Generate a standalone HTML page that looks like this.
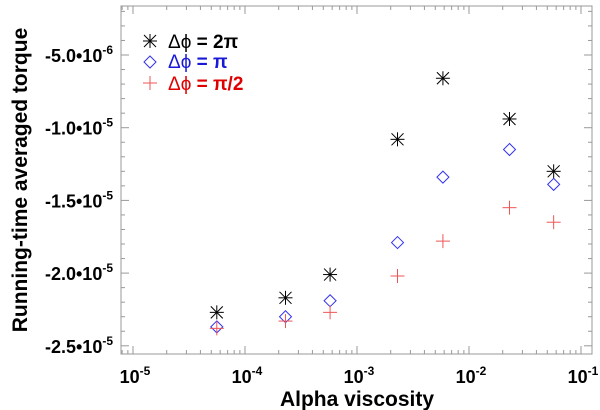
<!DOCTYPE html>
<html><head><meta charset="utf-8"><style>
body{margin:0;background:#fff}
svg{display:block;font-family:"Liberation Sans",Arial,sans-serif;font-weight:bold}
</style></head><body>
<svg id="chart" width="600" height="410" viewBox="0 0 600 410">
<rect x="121" y="6" width="471" height="348" fill="none" stroke="#999" stroke-width="1"/>
<g id="axes"></g>
<g id="marks"></g>
<text x="357" y="406" text-anchor="middle" font-size="21">Alpha viscosity</text>
<text transform="translate(27,180) rotate(-90)" text-anchor="middle" font-size="21">Running-time averaged torque</text>
<g>
<g>
<g stroke="#000" stroke-width="1"><line x1="144" y1="35" x2="156" y2="47"/><line x1="156" y1="35" x2="144" y2="47"/><line x1="150" y1="34" x2="150" y2="48"/><line x1="143" y1="41" x2="157" y2="41"/></g>
<text x="168" y="48" font-size="19" fill="#000" font-weight="normal">Δϕ <tspan font-weight="bold">= 2π</tspan></text></g>
<g>
<path d="M150 56 L156 62 L150 68 L144 62 Z" fill="none" stroke="#3333ee"/>
<text x="168" y="68" font-size="19" fill="#1a1ad6" font-weight="normal">Δϕ <tspan font-weight="bold">= π</tspan></text></g>
<g>
<g stroke="#ee5555"><line x1="143" y1="83" x2="157" y2="83"/><line x1="150" y1="76" x2="150" y2="90"/></g>
<text x="168" y="90" font-size="19" fill="#e00000" font-weight="normal">Δϕ <tspan font-weight="bold">= π/2</tspan></text></g>
</g>
</svg>
<script>
const alphas=[5.6e-5,2.3e-4,5.75e-4,2.3e-3,5.85e-3,2.3e-2,5.7e-2];
const torque2pi=[-2.27e-5,-2.17e-5,-2.01e-5,-1.08e-5,-6.6e-6,-9.4e-6,-1.30e-5];
const torquePi=[-2.37e-5,-2.30e-5,-2.19e-5,-1.79e-5,-1.34e-5,-1.15e-5,-1.39e-5];
const torquePiHalf=[-2.38e-5,-2.33e-5,-2.27e-5,-2.02e-5,-1.78e-5,-1.55e-5,-1.65e-5];
const yTicks=[-5e-6,-1e-5,-1.5e-5,-2e-5,-2.5e-5];
const yTickLabels=["-5.0","-1.0","-1.5","-2.0","-2.5"];
const yTickExps=["-6","-5","-5","-5","-5"];
const xDecades=[-5,-4,-3,-2,-1];
const NS="http://www.w3.org/2000/svg";
function X(v){return 133+(Math.log10(v)+5)*112;}
function Y(v){return 55+(-5e-6-v)/5e-6*72.7;}
function mk(t,a,p){const e=document.createElementNS(NS,t);for(const k in a)e.setAttribute(k,a[k]);p.appendChild(e);return e;}
const ax=document.getElementById('axes'),mg=document.getElementById('marks');
const T=121,R=592,TOP=6,B=354;
for(let v=-2e-6;v>=-2.5e-5-1e-12;v-=1e-6){const y=Y(v);if(y<TOP||y>B)continue;
 const major=Math.abs(Math.round(v/1e-6))%5===0;const l=major?8:4;
 const t1=mk('line',{x1:T,y1:y,x2:T+l,y2:y,stroke:'#999'},ax);
 
 
 const t2=mk('line',{x1:R,y1:y,x2:R-l,y2:y,stroke:'#999'},ax);
 
 }
yTicks.forEach((v,i)=>{const t=mk('text',{x:113,y:Y(v)+7,'text-anchor':'end','font-size':18},ax);
 
 
 t.textContent=yTickLabels[i]+'•10';
 const s=mk('tspan',{dy:-8,'font-size':12},t);s.textContent=yTickExps[i];});
for(let d=-6;d<=-1;d++){for(let m=1;m<10;m++){const v=m*Math.pow(10,d);const x=X(v);if(x<T||x>R)continue;
 const l=m===1?8:4;
 const a=mk('line',{x1:x,y1:B,x2:x,y2:B-l,stroke:'#999'},ax);
 
 
 const b=mk('line',{x1:x,y1:TOP,x2:x,y2:TOP+l,stroke:'#999'},ax);
 
 }}
xDecades.forEach(d=>{const t=mk('text',{x:X(Math.pow(10,d))+2,y:383,'text-anchor':'middle','font-size':18},ax);
 
 
 t.textContent='10';const s=mk('tspan',{dy:-8,'font-size':12},t);s.textContent=String(d);});
alphas.forEach((a,i)=>{const x=X(a);
 let y=Y(torque2pi[i]);const g=mk('g',{stroke:'#000','stroke-width':1},mg);
 
 
 mk('line',{x1:x-6,y1:y-6,x2:x+6,y2:y+6},g);mk('line',{x1:x+6,y1:y-6,x2:x-6,y2:y+6},g);
 mk('line',{x1:x,y1:y-7,x2:x,y2:y+7},g);mk('line',{x1:x-7,y1:y,x2:x+7,y2:y},g);
 y=Y(torquePi[i]);const p=mk('path',{d:`M${x} ${y-6}L${x+6} ${y}L${x} ${y+6}L${x-6} ${y}Z`,fill:'none',stroke:'#3333ee'},mg);
 
 
 y=Y(torquePiHalf[i]);const h=mk('g',{stroke:'#ee5555'},mg);
 
 
 mk('line',{x1:x-7,y1:y,x2:x+7,y2:y},h);mk('line',{x1:x,y1:y-7,x2:x,y2:y+7},h);});
</script>
</body></html>
